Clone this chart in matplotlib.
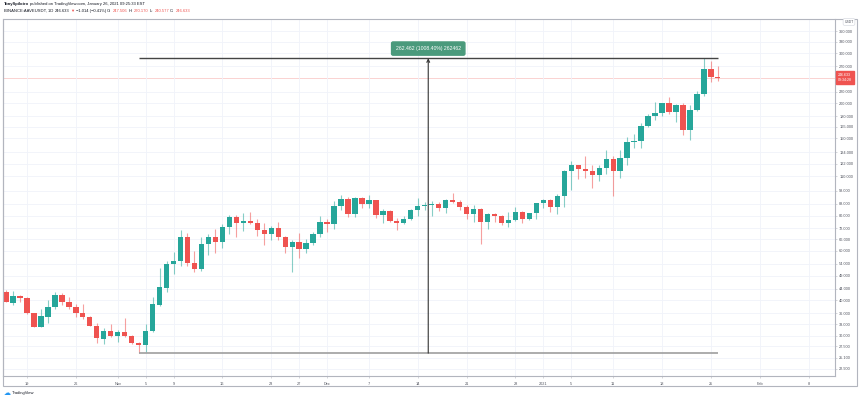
import matplotlib
matplotlib.use("Agg")
import matplotlib.pyplot as plt
import matplotlib.dates as mdates
from matplotlib.patches import Rectangle
import pandas as pd

plt.rcParams['font.family'] = ['Liberation Sans', 'DejaVu Sans']

dates = pd.date_range('2020-10-16', periods=103, freq='D')
opens = [42.9, 39.3, 41.5, 40.9, 36.0, 32.2, 35.0, 37.8, 42.0, 39.4,
         38.0, 36.0, 35.0, 32.6, 29.2, 31.3, 29.9, 30.9, 29.9, 28.3,
         27.9, 31.3, 38.6, 44.4, 53.8, 55.2, 66.9, 54.4, 51.9, 63.3,
         66.9, 64.4, 72.9, 79.1, 75.3, 76.4, 75.0, 71.2, 68.8, 72.3,
         66.9, 61.7, 64.2, 60.8, 63.7, 68.8, 76.0, 74.4, 86.4, 91.4,
         80.7, 92.6, 88.2, 90.7, 80.2, 82.9, 76.7, 75.0, 77.6, 84.0,
         86.4, 87.1, 87.6, 85.1, 90.7, 89.3, 85.9, 80.7, 84.3, 76.0,
         80.7, 79.6, 75.3, 77.0, 82.0, 77.8, 81.4, 88.4, 90.7, 86.0,
         93.6, 114.9, 120.5, 116.5, 115.1, 110.9, 117.9, 127.1, 114.9, 128.1,
         146.0, 147.3, 165.4, 180.2, 185.1, 199.8, 185.6, 196.6, 161.0, 189.0,
         214.8, 264.1, 247.506]
highs = [43.7, 43.2, 41.7, 41.1, 36.1, 37.2, 40.3, 42.9, 42.6, 41.0,
         39.0, 39.0, 35.2, 33.2, 31.9, 33.0, 31.4, 34.6, 30.2, 28.4,
         33.0, 41.2, 52.1, 55.2, 59.3, 71.0, 69.6, 59.9, 66.9, 68.7,
         71.4, 74.4, 80.2, 80.1, 81.6, 82.5, 77.5, 75.0, 73.5, 75.7,
         67.6, 65.4, 69.6, 66.1, 70.1, 80.0, 77.5, 90.2, 94.9, 93.0,
         93.3, 93.0, 94.9, 91.1, 84.3, 84.0, 78.1, 80.0, 84.6, 92.0,
         89.6, 90.1, 89.6, 91.9, 96.3, 90.7, 87.5, 87.1, 85.1, 81.8,
         81.9, 80.3, 82.0, 86.0, 83.2, 81.5, 88.4, 91.3, 91.9, 95.2,
         116.0, 124.6, 121.0, 129.7, 120.5, 120.9, 136.3, 130.0, 136.3, 151.7,
         155.0, 170.8, 183.2, 202.1, 201.0, 209.9, 199.0, 199.8, 197.0, 221.6,
         288.49, 282.6, 270.170]
lows = [39.4, 38.5, 39.5, 35.8, 32.2, 32.1, 33.4, 37.2, 38.6, 37.2,
        35.0, 34.5, 32.4, 28.3, 28.0, 29.8, 28.4, 29.7, 28.0, 26.03,
        26.3, 31.0, 38.2, 42.7, 49.6, 52.9, 52.9, 50.5, 50.9, 57.9,
        59.1, 61.2, 68.7, 67.2, 70.6, 74.4, 67.6, 62.7, 65.4, 65.4,
        59.0, 50.3, 56.5, 59.1, 62.7, 67.4, 69.8, 71.4, 83.6, 79.1,
        79.1, 84.8, 84.8, 78.7, 75.0, 76.0, 71.0, 74.8, 77.0, 79.9,
        83.6, 80.0, 83.1, 81.7, 88.3, 83.6, 77.5, 76.0, 63.2, 71.4,
        76.0, 74.2, 72.8, 76.6, 75.0, 77.0, 78.0, 84.8, 82.4, 81.0,
        86.0, 98.4, 107.8, 108.6, 100.5, 106.3, 112.4, 93.8, 108.9, 120.9,
        138.7, 139.3, 164.3, 174.0, 180.9, 182.5, 171.6, 154.6, 148.0, 188.0,
        212.0, 237.7, 240.577]
closes = [39.5, 41.5, 40.9, 36.0, 32.3, 35.2, 37.8, 42.0, 39.4, 38.0,
          36.0, 35.0, 32.6, 29.4, 31.3, 29.9, 30.9, 29.9, 28.3, 27.8,
          31.2, 38.8, 44.5, 53.8, 55.2, 66.9, 54.4, 51.9, 63.3, 66.9,
          64.4, 72.9, 79.1, 75.3, 76.4, 75.0, 71.2, 68.8, 72.3, 66.9,
          61.7, 64.2, 60.8, 63.7, 68.8, 76.0, 74.4, 86.4, 91.4, 80.7,
          92.6, 88.2, 90.7, 80.2, 82.9, 76.7, 75.0, 77.6, 84.0, 86.4,
          87.1, 87.6, 85.1, 90.7, 89.3, 85.9, 80.7, 84.3, 76.0, 80.7,
          79.6, 75.3, 77.0, 82.0, 77.8, 81.4, 88.4, 90.7, 86.0, 93.6,
          114.9, 120.5, 116.5, 115.1, 110.9, 117.9, 127.1, 114.9, 128.1, 146.0,
          147.3, 165.4, 180.2, 185.1, 199.8, 185.6, 196.6, 161.0, 189.0, 214.8,
          264.1, 247.506, 246.633]

price_ticks = [360, 330, 300, 270, 220, 200, 180, 165, 150, 134, 122, 110, 98,
               88, 80, 72, 66, 60, 54, 49, 44, 40, 36, 33, 30, 27.5, 25.1, 22.9]
date_ticks = ['2020-10-19', '2020-10-26', '2020-11-01', '2020-11-05', '2020-11-09',
              '2020-11-16', '2020-11-23', '2020-11-27', '2020-12-01', '2020-12-07',
              '2020-12-14', '2020-12-21', '2020-12-28', '2021-01-01', '2021-01-05',
              '2021-01-11', '2021-01-18', '2021-01-25', '2021-02-01', '2021-02-08']
date_labels = ['19', '26', 'Nov', '5', '9', '16', '23', '27', 'Dec', '7', '14',
               '21', '28', '2021', '5', '11', '18', '25', 'Feb', '8']

range_low = 26.03
range_high = 288.49
range_text = '262.462 (1008.40%) 262462'
last_price = 246.633

GREEN = '#26a69a'
RED = '#ef5350'
TXT = '#50535e'

fig = plt.figure(figsize=(8.6, 3.99), dpi=100)
ax = fig.add_axes([0.003, 0.0576, 0.968, 0.8944])

x = mdates.date2num(dates)
for xi, o, h, l, c in zip(x, opens, highs, lows, closes):
    col = GREEN if c >= o else RED
    ax.vlines(xi, l, h, color=col, alpha=0.55, lw=0.8, zorder=2)
    ax.bar(xi, max(abs(c - o), 0.004 * c), bottom=min(o, c), width=0.76,
           color=col, zorder=3, linewidth=0)

ax.set_yscale('log')
ax.set_ylim(21.6, 397)
ax.set_xlim(x[0] - 0.5, x[0] + 118.8)

ax.yaxis.tick_right()
ax.set_yticks(price_ticks)
ax.set_yticklabels(['%.3f' % p for p in price_ticks])
ax.yaxis.set_minor_locator(matplotlib.ticker.NullLocator())
ax.set_xticks(mdates.date2num(pd.to_datetime(date_ticks)))
ax.set_xticklabels(date_labels)
ax.tick_params(axis='both', labelsize=2.8, labelcolor=TXT, color='#b2b5be',
               length=1.5, width=0.4, pad=1.5)
ax.tick_params(axis='x', pad=2.5)
ax.grid(True, color='#f0f3fa', lw=0.6, zorder=0)
ax.spines['top'].set_visible(False)
for s in ['left', 'right', 'bottom']:
    ax.spines[s].set_color('#b2b5be')
    ax.spines[s].set_linewidth(0.8)

# ....... current price line and label .......
ax.axhline(last_price, color=RED, alpha=0.3, lw=0.6, zorder=1)
ax.annotate('%.3f\n09:34:28' % last_price, xy=(1.0, last_price),
            xycoords=('axes fraction', 'data'), xytext=(2, 0),
            textcoords='offset points', ha='left', va='center',
            fontsize=2.6, color='white', linespacing=1.3,
            bbox=dict(boxstyle='square,pad=0.5', fc=RED, ec=RED))

# ....... price range measurement .......
i_start, i_end = 19, 102
mid = (x[i_start] + x[i_end]) / 2
ax.hlines(range_high, x[i_start], x[i_end], color='#444444', lw=1.0, zorder=4)
ax.hlines(range_low, x[i_start], x[i_end], color='#9e9e9e', lw=1.2, zorder=4)
ax.annotate('', xy=(mid, range_high), xytext=(mid, range_low),
            arrowprops=dict(arrowstyle='->', color='#333333', lw=0.8,
                            shrinkA=0, shrinkB=0, mutation_scale=5), zorder=4)
ax.annotate(range_text, xy=(mid, range_high), xytext=(0, 7),
            textcoords='offset points', ha='center', va='center',
            fontsize=3.7, color='white',
            bbox=dict(boxstyle='round,pad=0.8,rounding_size=0.3',
                      fc='#4a9a7c', ec='#4a9a7c'), zorder=5)

# ....... outer frame of the chart panel .......
fig.patches.append(Rectangle((2.5 / 860, (399 - 386) / 399), 854 / 860, 367 / 399,
                             transform=fig.transFigure, fill=False,
                             ec='#b2b5be', lw=0.8))
fig.text(849 / 860, 1 - 22 / 399, 'USDT', fontsize=2.4, color=TXT, ha='center',
         va='center', bbox=dict(boxstyle='round,pad=0.4', fc='white',
                                ec='#d1d4dc', lw=0.4))

# ....... header lines .......
r = fig.canvas.get_renderer()


def chain(x0, y0, parts, size):
    xp = x0
    for s, c, w in parts:
        t = fig.text(xp / 860, 1 - y0 / 399, s, color=c, fontsize=size,
                     fontweight=w, va='center', ha='left')
        xp = t.get_window_extent(r).x1 + 1.2


chain(4, 4.5, [('TonySpilotro', '#131722', 'bold'),
               ('published on TradingView.com, January 26, 2021 09:25:33 EST', '#131722', 'normal')], 3.0)
chain(4, 11, [('BINANCE:AAVEUSDT, 1D', '#131722', 'normal'),
              ('246.633', '#131722', 'normal'),
              ('\u25bc', RED, 'normal'),
              ('\u22121.014 (\u22120.41%)', '#131722', 'normal'),
              ('O:', '#131722', 'normal'), ('247.506', RED, 'normal'),
              ('H:', '#131722', 'normal'), ('270.170', RED, 'normal'),
              ('L:', '#131722', 'normal'), ('240.577', RED, 'normal'),
              ('C:', '#131722', 'normal'), ('246.633', RED, 'normal')], 3.0)

# ....... footer logo .......
fig.text(4 / 860, 1 - 393 / 399, '\u2601', color='#2196f3', fontsize=5,
         va='center', ha='left', family='DejaVu Sans')
fig.text(12 / 860, 1 - 393 / 399, 'TradingView', color='#131722', fontsize=3.0,
         va='center', ha='left')

fig.savefig('out.png', dpi=100, facecolor='white')
